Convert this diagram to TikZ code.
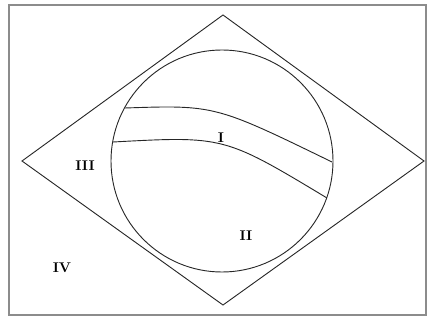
\documentclass[tikz,border=0pt]{standalone}
\usepackage{tikz}
\tikzset{
  frameline/.style={draw=black!45, line width=1pt},
  outline/.style={draw=black!85, line width=0.65pt},
  regionlabel/.style={font=\bfseries, inner sep=1pt}
}

\begin{document}
\begin{tikzpicture}[x=0.025cm, y=-0.025cm]
  \useasboundingbox (0,0) rectangle (427,320);
  \draw[frameline] (9,5) rectangle (426,315);

  % rhombus and the inscribed circle
  \coordinate (top) at (223,15);
  \coordinate (left) at (22,161);
  \coordinate (right) at (424,161);
  \coordinate (bottom) at (223,305);
  \draw[outline] (top) -- (right) -- (bottom) -- (left) -- cycle;
  \coordinate (centre) at (222,161);
  \draw[outline] (centre) circle [radius=111];

  % the band across the circle
  \coordinate (ul) at (125,108);
  \coordinate (ur) at (332,162);
  \coordinate (ll) at (113,142);
  \coordinate (lr) at (327,198);
  \draw[outline] (ul) .. controls (215,105) .. (ur);
  \draw[outline] (ll) .. controls (224,136) .. (lr);

  \node[regionlabel] (one) at (221,138) {I};
  \node[regionlabel] (two) at (246,236) {II};
  \node[regionlabel] (three) at (85,166) {III};
  \node[regionlabel] (four) at (62,268) {IV};
\end{tikzpicture}
\end{document}
